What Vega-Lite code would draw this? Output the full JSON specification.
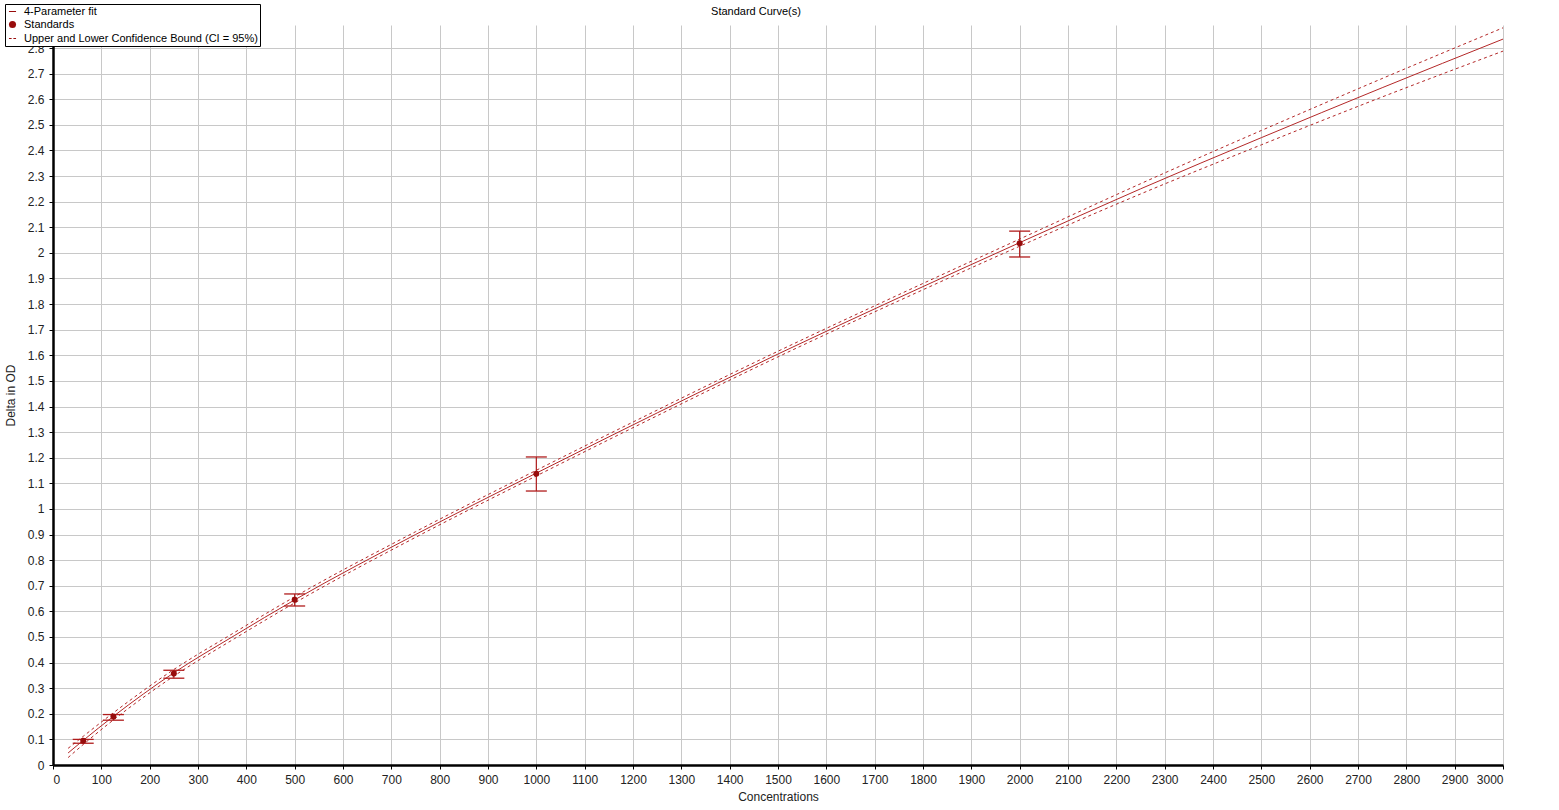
{
  "$schema": "https://vega.github.io/schema/vega-lite/v6.json",
  "width": 1450,
  "height": 740,
  "autosize": {"type": "none"},
  "padding": {"left": 53, "top": 25, "right": 56, "bottom": 45},
  "background": "white",
  "title": {"text": "Standard Curve(s)", "fontSize": 11, "fontWeight": "normal", "font": "Liberation Sans", "color": "#000", "offset": 4, "dx": -22, "dy": 17},
  "config": {
    "view": {"stroke": null},
    "font": "Liberation Sans",
    "axis": {
      "labelFont": "Liberation Sans", "labelFontSize": 12, "labelColor": "#222", "labelOverlap": false,
      "titleFont": "Liberation Sans", "titleFontSize": 12, "titleFontWeight": "normal", "titleColor": "#222",
      "domainColor": "#000", "domainWidth": 2.5, "tickColor": "#000", "tickSize": 4,
      "gridColor": "#c8c8c8", "gridWidth": 1, "gridOpacity": 1
    }
  },
  "datasets": {
    "curve": [
      {"conc": 31.25, "fit": 0.047, "lower": 0.029, "upper": 0.065},
      {"conc": 62.5, "fit": 0.096, "lower": 0.080, "upper": 0.112},
      {"conc": 125, "fit": 0.19, "lower": 0.176, "upper": 0.204},
      {"conc": 250, "fit": 0.36, "lower": 0.347, "upper": 0.373},
      {"conc": 375, "fit": 0.505, "lower": 0.493, "upper": 0.517},
      {"conc": 500, "fit": 0.645, "lower": 0.633, "upper": 0.657},
      {"conc": 750, "fit": 0.90, "lower": 0.889, "upper": 0.911},
      {"conc": 1000, "fit": 1.14, "lower": 1.129, "upper": 1.151},
      {"conc": 1250, "fit": 1.375, "lower": 1.364, "upper": 1.386},
      {"conc": 1500, "fit": 1.605, "lower": 1.594, "upper": 1.616},
      {"conc": 1750, "fit": 1.825, "lower": 1.813, "upper": 1.837},
      {"conc": 2000, "fit": 2.04, "lower": 2.026, "upper": 2.054},
      {"conc": 2250, "fit": 2.25, "lower": 2.23, "upper": 2.27},
      {"conc": 2500, "fit": 2.45, "lower": 2.422, "upper": 2.478},
      {"conc": 2750, "fit": 2.645, "lower": 2.609, "upper": 2.681},
      {"conc": 3000, "fit": 2.835, "lower": 2.788, "upper": 2.879}
    ],
    "standards": [
      {"conc": 62.5, "od": 0.095, "lo": 0.085, "hi": 0.100},
      {"conc": 125, "od": 0.189, "lo": 0.175, "hi": 0.197},
      {"conc": 250, "od": 0.357, "lo": 0.339, "hi": 0.370},
      {"conc": 500, "od": 0.645, "lo": 0.621, "hi": 0.668},
      {"conc": 1000, "od": 1.137, "lo": 1.070, "hi": 1.203},
      {"conc": 2000, "od": 2.038, "lo": 1.984, "hi": 2.085}
    ]
  },
  "encoding": {
    "x": {
      "field": "conc", "type": "quantitative",
      "scale": {"domain": [0, 3000], "nice": false, "zero": false},
      "axis": {
        "title": "Concentrations", "titlePadding": 6,
        "values": [0,100,200,300,400,500,600,700,800,900,1000,1100,1200,1300,1400,1500,1600,1700,1800,1900,2000,2100,2200,2300,2400,2500,2600,2700,2800,2900,3000],
        "format": "d", "labelPadding": 5
      }
    }
  },
  "layer": [
    {
      "data": {"name": "curve"},
      "mark": {"type": "line", "color": "#b42828", "strokeWidth": 1, "interpolate": "monotone"},
      "encoding": {
        "y": {
          "field": "fit", "type": "quantitative",
          "scale": {"domain": [0, 2.89], "nice": false, "zero": false},
          "axis": {
            "title": "Delta in OD", "titlePadding": 10,
            "values": [0,0.1,0.2,0.3,0.4,0.5,0.6,0.7,0.8,0.9,1,1.1,1.2,1.3,1.4,1.5,1.6,1.7,1.8,1.9,2,2.1,2.2,2.3,2.4,2.5,2.6,2.7,2.8],
            "format": "~f", "labelPadding": 5
          }
        }
      }
    },
    {
      "data": {"name": "curve"},
      "mark": {"type": "line", "color": "#b42828", "strokeWidth": 1, "strokeDash": [3, 3], "interpolate": "monotone"},
      "encoding": {"y": {"field": "lower", "type": "quantitative", "axis": {
            "title": "Delta in OD", "titlePadding": 10,
            "values": [0,0.1,0.2,0.3,0.4,0.5,0.6,0.7,0.8,0.9,1,1.1,1.2,1.3,1.4,1.5,1.6,1.7,1.8,1.9,2,2.1,2.2,2.3,2.4,2.5,2.6,2.7,2.8],
            "format": "~f", "labelPadding": 5
          }}}
    },
    {
      "data": {"name": "curve"},
      "mark": {"type": "line", "color": "#b42828", "strokeWidth": 1, "strokeDash": [3, 3], "interpolate": "monotone"},
      "encoding": {"y": {"field": "upper", "type": "quantitative", "axis": {
            "title": "Delta in OD", "titlePadding": 10,
            "values": [0,0.1,0.2,0.3,0.4,0.5,0.6,0.7,0.8,0.9,1,1.1,1.2,1.3,1.4,1.5,1.6,1.7,1.8,1.9,2,2.1,2.2,2.3,2.4,2.5,2.6,2.7,2.8],
            "format": "~f", "labelPadding": 5
          }}}
    },
    {
      "data": {"name": "standards"},
      "mark": {"type": "rule", "color": "#b01c1c", "strokeWidth": 1.2},
      "encoding": {"y": {"field": "lo", "type": "quantitative", "axis": {
            "title": "Delta in OD", "titlePadding": 10,
            "values": [0,0.1,0.2,0.3,0.4,0.5,0.6,0.7,0.8,0.9,1,1.1,1.2,1.3,1.4,1.5,1.6,1.7,1.8,1.9,2,2.1,2.2,2.3,2.4,2.5,2.6,2.7,2.8],
            "format": "~f", "labelPadding": 5
          }}, "y2": {"field": "hi"}}
    },
    {
      "data": {"name": "standards"},
      "mark": {"type": "tick", "orient": "horizontal", "color": "#b01c1c", "size": 21, "thickness": 1.3, "opacity": 1},
      "encoding": {"y": {"field": "lo", "type": "quantitative", "axis": {
            "title": "Delta in OD", "titlePadding": 10,
            "values": [0,0.1,0.2,0.3,0.4,0.5,0.6,0.7,0.8,0.9,1,1.1,1.2,1.3,1.4,1.5,1.6,1.7,1.8,1.9,2,2.1,2.2,2.3,2.4,2.5,2.6,2.7,2.8],
            "format": "~f", "labelPadding": 5
          }}}
    },
    {
      "data": {"name": "standards"},
      "mark": {"type": "tick", "orient": "horizontal", "color": "#b01c1c", "size": 21, "thickness": 1.3, "opacity": 1},
      "encoding": {"y": {"field": "hi", "type": "quantitative", "axis": {
            "title": "Delta in OD", "titlePadding": 10,
            "values": [0,0.1,0.2,0.3,0.4,0.5,0.6,0.7,0.8,0.9,1,1.1,1.2,1.3,1.4,1.5,1.6,1.7,1.8,1.9,2,2.1,2.2,2.3,2.4,2.5,2.6,2.7,2.8],
            "format": "~f", "labelPadding": 5
          }}}
    },
    {
      "data": {"name": "standards"},
      "mark": {"type": "point", "filled": true, "color": "#980c0c", "size": 36, "opacity": 1},
      "encoding": {
        "y": {"field": "od", "type": "quantitative", "axis": {
            "title": "Delta in OD", "titlePadding": 10,
            "values": [0,0.1,0.2,0.3,0.4,0.5,0.6,0.7,0.8,0.9,1,1.1,1.2,1.3,1.4,1.5,1.6,1.7,1.8,1.9,2,2.1,2.2,2.3,2.4,2.5,2.6,2.7,2.8],
            "format": "~f", "labelPadding": 5
          }},
        "shape": {
          "datum": "Standards",
          "scale": {
            "domain": ["4-Parameter fit", "Standards", "Upper and Lower Confidence Bound (CI = 95%)"],
            "range": ["M-1,-0.14H1V0.14H-1Z", "circle", "M-1,-0.14H-0.25V0.14H-1ZM0.25,-0.14H1V0.14H0.25Z"]
          },
          "legend": {
            "title": null, "orient": "none", "legendX": -48, "legendY": -21,
            "strokeColor": "#000", "fillColor": "#fff", "padding": 2,
            "labelFont": "Liberation Sans", "labelFontSize": 11, "labelColor": "#000", "labelLimit": 400,
            "symbolSize": 50, "rowPadding": 0, "labelOffset": 6, "cornerRadius": 0
          }
        }
      }
    }
  ]
}
